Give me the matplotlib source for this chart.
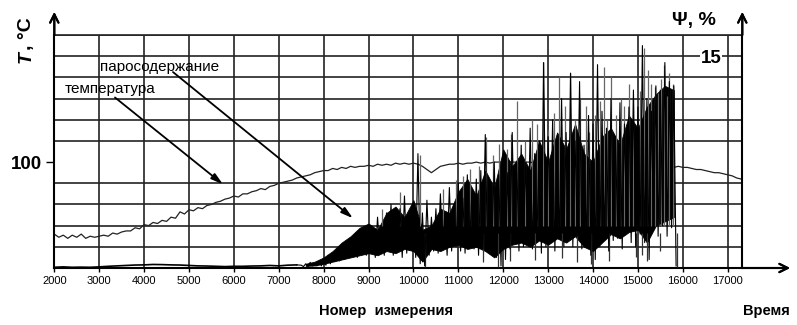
import numpy as np
import matplotlib
matplotlib.use('Agg')
import matplotlib.pyplot as plt

plt.rcParams['font.family'] = ['Liberation Sans', 'DejaVu Sans']

# --- температура, °C (номер измерения 2000..17300, шаг 100)
temp_x = np.arange(2000, 17301, 100)
temp = [32, 29, 31, 28, 31, 29, 32, 28, 30, 29,
        30, 31, 30, 33, 32, 34, 35, 35, 38, 37,
        41, 40, 43, 42, 45, 44, 48, 47, 53, 51,
        55, 54, 57, 56, 59, 60, 62, 63, 65, 66,
        68, 67, 70, 70, 72, 73, 75, 74, 77, 78,
        80, 81, 82, 83, 85, 86, 87, 88, 90, 91,
        92, 92, 94, 93, 95, 94, 96, 95, 96, 96,
        97, 96, 98, 97, 98, 97, 99, 98, 99, 98,
        99, 98, 96, 93, 90, 93, 96, 97, 98, 98,
        99, 98, 99, 99, 100, 99, 100, 99, 100, 100,
        100, 101, 100, 100, 101, 100, 100, 99, 100, 100,
        99, 100, 99, 99, 100, 99, 98, 99, 98, 98,
        98, 99, 98, 97, 98, 97, 97, 98, 97, 96,
        97, 96, 96, 97, 96, 95, 96, 96, 95, 96,
        95, 95, 94, 93, 93, 92, 91, 90, 90, 89,
        88, 87, 85, 84]

# --- паросодержание, %
# спокойный участок (шаг 200)
psi_base_x = np.arange(2000, 7401, 200)
psi_base = [0.05, 0.08, 0.05, 0.06, 0.05, 0.08, 0.12, 0.15, 0.18, 0.21,
            0.22, 0.25, 0.24, 0.22, 0.21, 0.18, 0.15, 0.14, 0.12, 0.10,
            0.12, 0.12, 0.14, 0.15, 0.18, 0.15, 0.20, 0.22]

# пульсации: максимумы (x) и минимумы (x + 50), шаг 100
psi_zig_x = np.arange(7500, 15801, 100)
psi_hi = [0.2, 0.3, 0.4, 0.3, 0.45,
          0.6, 0.9, 1.05, 1.35, 1.5,
          1.8, 2.1, 1.65, 2.55, 2.25,
          3.0, 2.7, 3.6, 2.85, 3.9,
          4.5, 3.3, 4.2, 5.1, 3.75,
          4.5, 8.1, 3.9, 4.8, 3.6,
          4.2, 5.25, 3.9, 5.7, 4.5,
          6.0, 4.95, 6.6, 5.4, 6.3,
          6.9, 9.45, 6.0, 7.5, 6.6,
          7.8, 6.75, 9.6, 7.5, 8.7,
          7.5, 9.9, 8.1, 9.0, 14.55,
          9.3, 10.5, 8.4, 12.0, 9.6,
          13.8, 9.0, 13.2, 8.7, 10.8,
          10.2, 14.4, 11.1, 9.9, 12.0,
          9.3, 11.7, 10.2, 11.4, 12.6,
          11.4, 15.75, 12.0, 11.1, 12.9,
          12.6, 14.55, 13.2, 12.9]
psi_lo = [0.1, 0.1, 0.15, 0.15, 0.15,
          0.2, 0.3, 0.45, 0.5, 0.6,
          0.75, 0.9, 0.75, 1.05, 0.9,
          1.05, 0.75, 1.2, 0.9, 1.35,
          0.9, 1.2, 0.75, 1.05, 1.35,
          0.75, 0.3, 0.15, 0.9, 1.2,
          1.05, 1.35, 0.9, 1.2, 1.5,
          1.2, 1.05, 1.5, 1.35, 0.9,
          1.35, 1.2, 1.65, 0.75, 0.15,
          0.6, 1.35, 1.8, 1.2, 1.5,
          1.65, 1.35, 1.95, 1.05, 1.5,
          1.8, 1.2, 2.1, 1.5, 1.95,
          1.5, 2.25, 1.35, 1.8, 0.9,
          0.6, 1.5, 2.25, 1.2, 1.95,
          2.1, 1.35, 2.55, 1.8, 1.5,
          2.4, 1.8, 0.6, 2.7, 2.25,
          3.0, 2.25, 2.85, 0.15]

# плотное ядро пульсаций (шаг 200)
core_x = np.arange(7600, 15801, 200)
core_lo = [0.15, 0.18, 0.3, 0.45, 0.6, 0.75, 0.9, 1.05, 0.9, 1.2,
           1.05, 1.35, 1.2, 0.45, 1.35, 1.2, 1.5, 1.65, 1.35, 1.5,
           1.2, 0.75, 1.35, 1.65, 1.8, 1.5, 1.95, 1.65, 2.1, 1.8,
           2.25, 1.5, 1.2, 1.8, 2.4, 2.1, 2.55, 2.7, 1.8, 3.0,
           3.3, 3.6]
core_hi = [0.3, 0.45, 0.75, 1.2, 1.8, 2.25, 2.85, 3.15, 2.7, 3.9,
           4.35, 3.6, 4.8, 2.7, 3.0, 4.2, 3.9, 5.4, 6.3, 5.1,
           6.9, 5.7, 8.4, 7.2, 8.1, 6.9, 9.0, 7.5, 9.6, 8.4,
           10.2, 8.1, 7.5, 9.3, 9.9, 8.7, 10.8, 9.9, 11.4, 12.3,
           12.9, 12.6]

# отдельные выбросы вверх
spike_x = [9300, 9700, 10150, 10650, 10950, 11100, 11250, 11450, 11620, 11780,
           11900, 12080, 12180, 12300, 12480, 12650, 12760, 12890, 13000, 13120,
           13250, 13380, 13480, 13600, 13700, 13850, 13920, 14050, 14150, 14240,
           14320, 14400, 14520, 14620, 14700, 14800, 14900, 15050, 15140, 15220,
           15300, 15380, 15450, 15520, 15580, 15650, 15700, 15780]
spike_top = [4.2, 5.4, 8.0, 5.6, 6.2, 6.5, 7.0, 7.2, 9.3, 8.0,
             8.8, 8.4, 9.5, 11.8, 9.0, 10.5, 10.2, 14.6, 9.8, 11.0,
             13.5, 11.5, 13.8, 10.5, 12.0, 11.5, 9.6, 10.8, 11.8, 14.2,
             10.5, 13.5, 10.8, 12.0, 11.5, 13.0, 12.0, 12.5, 15.6, 14.0,
             13.0, 12.8, 12.4, 13.4, 14.4, 12.2, 13.8, 13.0]
# выбросы вниз
dip_x = [10250, 11550, 11880, 12150, 12700, 13300, 13650, 13950, 14350, 14950,
         15100, 15200, 15500, 15870]
dip_bottom = [0.1, 0.4, 0.05, 0.5, 0.6, 0.7, 0.4, 0.3, 0.5, 0.8,
              0.9, 0.5, 1.2, 0.1]

W, H = 797, 325
fig = plt.figure(figsize=(W / 100, H / 100), dpi=100)
x0, x1, y0, y1 = 54.3 / W, 742.3 / W, 1 - 268 / H, 1 - 35 / H
ax = fig.add_axes([x0, y0, x1 - x0, y1 - y0])
ax.set_xlim(2000, 17325)
ax.set_ylim(0, 220)

# сетка
ax.set_xticks(np.arange(2000, 17001, 1000))
ax.set_yticks([100])
ax.set_yticks(np.arange(0, 221, 20), minor=True)
ax.xaxis.grid(True, which='major', color='#222222', lw=1.2)
ax.yaxis.grid(True, which='minor', color='#222222', lw=1.2)
ax.set_axisbelow(True)
ax.tick_params(axis='x', direction='out', length=3, width=1, pad=3, labelsize=8)
ax.tick_params(axis='y', which='major', direction='out', length=6, width=1, pad=3)
ax.tick_params(axis='y', which='minor', length=0)
for lbl in ax.get_yticklabels():
    lbl.set_fontsize(13.5)
    lbl.set_fontweight('bold')
for s in ['left', 'bottom', 'right']:
    ax.spines[s].set_linewidth(1.5)
ax.spines['top'].set_linewidth(1.2)
ax.spines['top'].set_color('#222222')

ax.plot(temp_x, temp, color='#222222', lw=0.9)

ax2 = ax.twinx()
ax2.set_ylim(0, 16.5)
ax2.set_yticks([15])
ax2.tick_params(axis='y', direction='in', length=0, pad=-15)
for lbl in ax2.get_yticklabels():
    lbl.set_fontsize(13.5)
    lbl.set_fontweight('bold')
    lbl.set_horizontalalignment('right')
    lbl.set_bbox(dict(facecolor='white', edgecolor='none', pad=0.5))
for s in ax2.spines.values():
    s.set_visible(False)

zx = np.column_stack([psi_zig_x, psi_zig_x + 50]).ravel()
zy = np.column_stack([psi_hi, psi_lo]).ravel()
ax2.plot(psi_base_x, psi_base, color='black', lw=1.2)
ax2.vlines(spike_x, 3.0, spike_top, color='#666666', lw=0.9)
ax2.vlines(dip_x, dip_bottom, 2.5, color='#333333', lw=0.9)
ax2.plot(np.concatenate([[psi_base_x[-1]], zx]),
         np.concatenate([[psi_base[-1]], zy]), color='black', lw=0.8)
ax2.fill_between(core_x, core_lo, core_hi, color='black', lw=0.6, edgecolor='black')

# стрелки осей
arr = dict(arrowstyle='->,head_length=0.6,head_width=0.3', lw=1.5, color='black',
           shrinkA=0, shrinkB=0)
fig.add_artist(plt.annotate('', xy=(x0, 1 - 12 / H), xytext=(x0, y1),
                            xycoords='figure fraction', arrowprops=arr))
fig.add_artist(plt.annotate('', xy=(x1, 1 - 12 / H), xytext=(x1, y1),
                            xycoords='figure fraction', arrowprops=arr))
fig.add_artist(plt.annotate('', xy=(790 / W, y0), xytext=(x1, y0),
                            xycoords='figure fraction', arrowprops=arr))

# подписи кривых
ptr = dict(arrowstyle='-|>,head_length=0.7,head_width=0.2', lw=1.3, color='black',
           shrinkA=0, shrinkB=0)
ax.annotate('', xy=(5758, 79), xytext=(3352, 161), arrowprops=ptr)
ax.annotate('', xy=(8652, 47), xytext=(4644, 185), arrowprops=ptr)
ax.text(3020, 190, 'паросодержание', fontsize=11, va='center', ha='left')
ax.text(2240, 169, 'температура', fontsize=11, va='center', ha='left')

# подписи осей
fig.text(26 / W, 1 - 63 / H, 'T', rotation=90, fontsize=14, fontweight='bold',
         fontstyle='italic', ha='center', va='bottom')
fig.text(26 / W, 1 - 50 / H, ', °C', rotation=90, fontsize=14, fontweight='bold',
         ha='center', va='bottom')
fig.text(672 / W, 1 - 20 / H, 'Ψ, %', fontsize=14, fontweight='bold',
         ha='left', va='center')
fig.text(386 / W, 1 - 311 / H, 'Номер  измерения', fontsize=10.5, fontweight='bold',
         ha='center', va='center')
fig.text(766 / W, 1 - 311 / H, 'Время', fontsize=10.5, fontweight='bold',
         ha='center', va='center')

fig.savefig('out.png', dpi=100)
